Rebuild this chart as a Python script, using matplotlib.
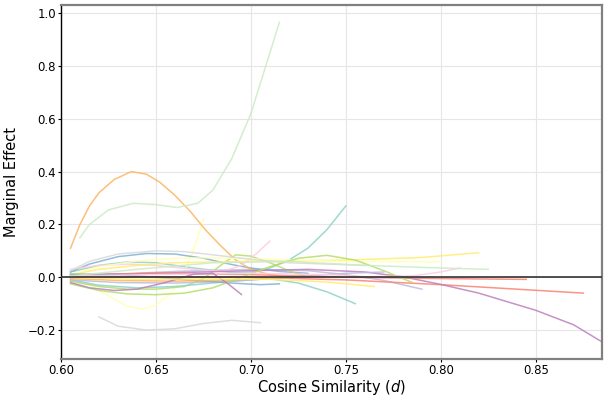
import matplotlib
matplotlib.use("Agg")
import matplotlib.pyplot as plt
import numpy as np

# Set3 palette
set3 = ['#8dd3c7', '#ffffb3', '#bebada', '#fb8072', '#80b1d3', '#fdb462',
        '#b3de69', '#fccde5', '#d9d9d9', '#bc80bd', '#ccebc5', '#ffed6f']

# each curve: (x values, y values)
teal_up = ([0.605, 0.62, 0.635, 0.65, 0.67, 0.69, 0.70, 0.71, 0.72, 0.73, 0.74, 0.75],
           [0.02, 0.045, 0.058, 0.055, 0.035, 0.018, 0.02, 0.035, 0.065, 0.11, 0.18, 0.27])
yellow_dip = ([0.605, 0.615, 0.625, 0.635, 0.643, 0.65, 0.658, 0.663, 0.668, 0.672, 0.675],
              [-0.01, -0.03, -0.07, -0.11, -0.12, -0.105, -0.06, -0.01, 0.07, 0.15, 0.22])
lavender_end = ([0.605, 0.63, 0.66, 0.70, 0.73, 0.75, 0.77, 0.79],
                [0.0, 0.012, 0.022, 0.03, 0.025, 0.01, -0.012, -0.045])
salmon_long = ([0.605, 0.65, 0.70, 0.75, 0.80, 0.84, 0.875],
               [0.0, 0.002, 0.0, -0.01, -0.028, -0.045, -0.06])
blue_top = ([0.605, 0.615, 0.63, 0.645, 0.66, 0.675, 0.69, 0.70, 0.715, 0.73],
            [0.02, 0.05, 0.078, 0.09, 0.088, 0.072, 0.048, 0.035, 0.022, 0.015])
orange_peak = ([0.605, 0.61, 0.615, 0.62, 0.628, 0.637, 0.645, 0.652, 0.66, 0.668, 0.676,
                0.684, 0.692, 0.70, 0.71, 0.72],
               [0.11, 0.2, 0.27, 0.32, 0.37, 0.40, 0.39, 0.36, 0.31, 0.25, 0.18,
                0.12, 0.065, 0.03, 0.01, 0.0])
green_hump = ([0.605, 0.62, 0.635, 0.65, 0.665, 0.675, 0.685, 0.692, 0.70, 0.71, 0.72, 0.73],
              [-0.015, -0.035, -0.045, -0.045, -0.035, -0.005, 0.05, 0.085, 0.08, 0.055, 0.025, 0.0])
pink_up = ([0.605, 0.62, 0.635, 0.65, 0.67, 0.685, 0.695, 0.703, 0.71],
           [0.03, 0.045, 0.05, 0.045, 0.03, 0.022, 0.045, 0.09, 0.137])
gray_low = ([0.62, 0.63, 0.645, 0.66, 0.675, 0.69, 0.705],
            [-0.15, -0.185, -0.2, -0.195, -0.175, -0.163, -0.172])
purple_long = ([0.605, 0.65, 0.70, 0.73, 0.76, 0.78, 0.80, 0.82, 0.85, 0.87, 0.885],
               [0.01, 0.015, 0.025, 0.03, 0.02, 0.002, -0.027, -0.06, -0.125, -0.18, -0.245])
lightgreen_up = ([0.61, 0.615, 0.625, 0.638, 0.65, 0.661, 0.672, 0.68, 0.69, 0.70, 0.707, 0.715],
                 [0.15, 0.2, 0.255, 0.28, 0.275, 0.264, 0.28, 0.33, 0.45, 0.62, 0.78, 0.965])
yellow_far = ([0.605, 0.62, 0.64, 0.66, 0.70, 0.75, 0.79, 0.82],
              [0.01, 0.03, 0.045, 0.055, 0.06, 0.065, 0.075, 0.093])
teal_down = ([0.605, 0.62, 0.64, 0.66, 0.69, 0.71, 0.725, 0.74, 0.755],
             [-0.01, -0.03, -0.04, -0.035, -0.015, -0.005, -0.022, -0.055, -0.10])
yellow_top = ([0.605, 0.62, 0.64, 0.66, 0.68, 0.70, 0.75, 0.80],
              [0.012, 0.04, 0.062, 0.072, 0.074, 0.07, 0.06, 0.058])
lavender_low = ([0.605, 0.63, 0.66, 0.69, 0.72, 0.75, 0.77],
                [-0.01, -0.02, -0.022, -0.015, 0.0, 0.015, 0.02])
salmon_short = ([0.605, 0.65, 0.70, 0.75, 0.80, 0.845],
                [0.008, 0.015, 0.01, 0.0, -0.005, -0.008])
blue_low = ([0.605, 0.63, 0.65, 0.67, 0.69, 0.705, 0.715],
            [0.012, 0.01, 0.0, -0.012, -0.022, -0.028, -0.025])
orange_flat = ([0.605, 0.63, 0.66, 0.69, 0.72],
               [-0.005, -0.012, -0.015, -0.01, -0.002])
green_late = ([0.605, 0.62, 0.635, 0.65, 0.665, 0.68, 0.695, 0.71, 0.725, 0.74, 0.755, 0.77, 0.785],
              [-0.025, -0.05, -0.063, -0.066, -0.06, -0.04, 0.0, 0.04, 0.072, 0.083, 0.065, 0.025, -0.02])
pink_late = ([0.605, 0.65, 0.70, 0.74, 0.76, 0.785, 0.80, 0.81],
             [0.005, 0.01, 0.015, 0.01, 0.002, 0.005, 0.02, 0.035])
gray_top = ([0.605, 0.615, 0.63, 0.65, 0.665, 0.68, 0.70, 0.72, 0.74, 0.76],
            [0.025, 0.06, 0.088, 0.10, 0.097, 0.085, 0.068, 0.055, 0.05, 0.045])
purple_dip = ([0.605, 0.615, 0.628, 0.64, 0.655, 0.67, 0.68, 0.688, 0.695],
              [-0.02, -0.04, -0.05, -0.045, -0.02, 0.012, 0.015, -0.025, -0.065])
lightgreen_far = ([0.605, 0.64, 0.68, 0.72, 0.76, 0.80, 0.825],
                  [0.005, 0.03, 0.055, 0.06, 0.045, 0.035, 0.03])
yellow_end = ([0.605, 0.64, 0.68, 0.71, 0.74, 0.765],
              [0.0, -0.008, -0.006, -0.008, -0.018, -0.035])

curves = [teal_up, yellow_dip, lavender_end, salmon_long, blue_top, orange_peak,
          green_hump, pink_up, gray_low, purple_long, lightgreen_up, yellow_far,
          teal_down, yellow_top, lavender_low, salmon_short, blue_low, orange_flat,
          green_late, pink_late, gray_top, purple_dip, lightgreen_far, yellow_end]

fig = plt.figure(figsize=(6.04, 3.96), dpi=100)
ax = fig.add_axes([0.101, 0.093, 0.896, 0.894])

for i, (xs, ys) in enumerate(curves):
    ax.plot(xs, ys, color=set3[i % 12], lw=1.1, alpha=0.85, zorder=2)

ax.axhline(0, color='#333333', lw=1.2, zorder=3)

ax.set_xlim(0.60, 0.885)
ax.set_ylim(-0.31, 1.03)
ax.set_xticks([0.60, 0.65, 0.70, 0.75, 0.80, 0.85])
ax.set_yticks([-0.2, 0.0, 0.2, 0.4, 0.6, 0.8, 1.0])
ax.set_xticklabels(['0.60', '0.65', '0.70', '0.75', '0.80', '0.85'])
ax.set_yticklabels(['\u22120.2', '0.0', '0.2', '0.4', '0.6', '0.8', '1.0'])
ax.tick_params(labelsize=8.5, length=2, pad=1.5)
ax.grid(True, color='#e6e6e6', lw=0.8, zorder=0)
ax.set_axisbelow(True)

for side in ['top', 'right', 'bottom']:
    ax.spines[side].set_color('#808080')
    ax.spines[side].set_linewidth(1.6)
ax.spines['left'].set_color('black')
ax.spines['left'].set_linewidth(1.0)

ax.set_xlabel('Cosine Similarity ($d$)', fontsize=10.5, labelpad=1)
ax.set_ylabel('Marginal Effect', fontsize=10.5, labelpad=6)

fig.savefig('out.png', dpi=100)
